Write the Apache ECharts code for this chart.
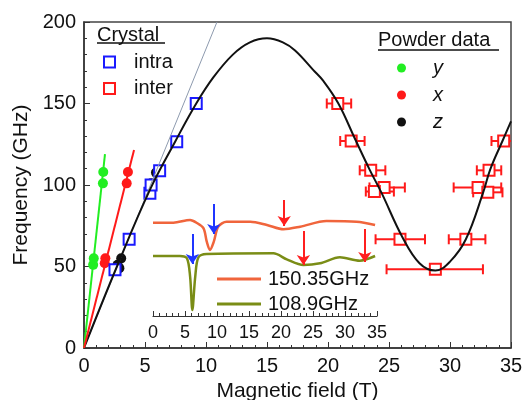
<!DOCTYPE html>
<html>
<head>
<meta charset="utf-8">
<script src="https://cdn.jsdelivr.net/npm/echarts@6/dist/echarts.min.js"></script>
<style>
  html, body { margin: 0; padding: 0; background: #fff; }
  #chart { width: 524px; height: 400px; }
</style>
</head>
<body>
<div id="chart"></div>
<script>
// black model curve [field (T), frequency (GHz)]
var fitCurve = [[0, 0], [2.7, 50], [5.4, 97], [7.5, 127], [9.2, 150], [10.6, 166], [12.2, 180],
  [13.6, 187.5], [15, 190], [16.3, 187.5], [17.3, 182.5], [18.8, 170.5], [19.6, 164], [20.85, 150],
  [22.2, 128.5], [23.4, 109.6], [24.4, 95], [26.1, 68], [27.5, 52], [28.8, 47.5], [30, 53],
  [31.3, 66.7], [32.7, 95], [33.3, 109.6], [34.3, 127], [35, 139]];
// thin grey guide line
var guideLine = [[0, 0], [10.9, 200]];
// straight lines through the powder points
var yLine = [[0, 0], [1.72, 119]];
var xLine = [[0, 0], [4.1, 121.5]];

// powder data
var powderY = [[0.75, 51], [0.8, 55], [1.55, 101], [1.58, 108]];
var powderX = [[1.7, 52], [1.75, 55], [3.5, 101], [3.6, 108]];
var powderZ = [[2.75, 51], [3.05, 55], [2.9, 49], [5.5, 101], [5.9, 107.6]];

// crystal data
var intra = [[2.54, 48], [3.7, 66.7], [5.4, 95], [5.5, 100], [6.2, 108.8], [7.6, 126.6], [9.2, 150]];
// [field, freq, field low, field high]
var inter = [[20.8, 150, 19.9, 21.9], [21.9, 127, 21.0, 23.0], [23.5, 109, 22.6, 24.7],
  [24.6, 98.5, 23.4, 26.3], [23.8, 96, 23.1, 25.4], [25.9, 66.7, 23.9, 27.95],
  [28.8, 48.3, 24.8, 32.7], [31.3, 66.7, 29.9, 32.9], [32.3, 98.5, 30.3, 34.2],
  [33.1, 95.5, 31.9, 34.3], [33.2, 109, 32.2, 34.2], [34.4, 127, 33.4, 35.6]];

// inset traces (arb. units)
var trace150 = [[0, 93.3], [3.2, 93.3], [5.8, 96], [6.8, 93.3], [7.9, 87.7], [8.4, 74.3], [8.9, 66],
  [9.5, 74.3], [10.2, 89.3], [11.5, 94.3], [15.2, 94.3], [17.8, 91], [20.4, 86.7], [23, 89.3],
  [27.1, 95], [31.8, 94.3], [34.7, 91]];
var trace109 = [[0, 60], [4.2, 60], [5.3, 57.7], [5.8, 39.3], [6.15, 6], [6.6, 39.3], [7.1, 58.7],
  [8.4, 62], [18.8, 62.7], [20.9, 56.7], [23.5, 51], [26.1, 52.7], [29.2, 58.7], [32.3, 55.3],
  [34.7, 60]];
// arrows [field, from, to]
var blueArrows = [[9.5, 112, 82], [6.15, 82, 52]];
var redArrows = [[20.5, 116, 90], [23.5, 85, 51], [33.1, 87, 54]];

var FONT = '"Liberation Sans", Arial, sans-serif';
var INK = '#111';

function arrowLines(list, color) {
  return list.map(function (a) {
    return [{ coord: [a[0], a[1]], lineStyle: { color: color }, itemStyle: { color: color } },
      { coord: [a[0], a[2]], itemStyle: { color: color } }];
  });
}

var myChart = echarts.init(document.getElementById('chart'));
myChart.setOption({
  animation: false,
  textStyle: { fontFamily: FONT },
  grid: [
    { left: 84, top: 22, width: 427, height: 326, show: true, borderColor: '#444', borderWidth: 1.5,
      outerBoundsMode: 'none', containLabel: false },
    { left: 153, top: 180, width: 224, height: 136, outerBoundsMode: 'none', containLabel: false }
  ],
  xAxis: [{
    type: 'value', min: 0, max: 35, interval: 5,
    name: 'Magnetic field (T)', nameLocation: 'middle', nameGap: 31,
    nameTextStyle: { fontSize: 21, color: INK, fontFamily: FONT },
    axisLine: { lineStyle: { color: '#333', width: 1.5 } },
    axisTick: { inside: true, length: 6, lineStyle: { color: '#333' } },
    minorTick: { show: true, splitNumber: 5, length: 3, lineStyle: { color: '#333' } },
    axisLabel: { fontSize: 20, color: INK, margin: 8 },
    splitLine: { show: false }
  }, {
    type: 'value', gridIndex: 1, min: 0, max: 35, interval: 5,
    axisLine: { lineStyle: { color: '#333', width: 1.2 } },
    axisTick: { inside: true, length: 5, lineStyle: { color: '#333' } },
    minorTick: { show: true, splitNumber: 5, length: 3, lineStyle: { color: '#333' } },
    axisLabel: { fontSize: 18, color: INK, margin: 8, hideOverlap: false },
    splitLine: { show: false }
  }],
  yAxis: [{
    type: 'value', min: 0, max: 200, interval: 50,
    name: 'Frequency (GHz)', nameLocation: 'middle', nameGap: 51,
    nameTextStyle: { fontSize: 21, color: INK, fontFamily: FONT },
    axisLine: { show: true, lineStyle: { color: '#333', width: 1.5 } },
    axisTick: { inside: true, length: 6, lineStyle: { color: '#333' } },
    minorTick: { show: true, splitNumber: 5, length: 3, lineStyle: { color: '#333' } },
    axisLabel: { fontSize: 20, color: INK, margin: 8 },
    splitLine: { show: false }
  }, {
    type: 'value', gridIndex: 1, min: 0, max: 136, show: false
  }],
  legend: [{
    data: ['intra', 'inter'], orient: 'vertical', left: 103, top: 52, padding: 0,
    itemWidth: 11, itemHeight: 11, itemGap: 6.5, selectedMode: false,
    textStyle: { fontSize: 20, color: INK, fontFamily: FONT, padding: [0, 0, 0, 14] }
  }, {
    data: ['y', 'x', 'z'], orient: 'vertical', left: 397, top: 58, padding: 0,
    itemWidth: 9, itemHeight: 9, itemGap: 7, selectedMode: false,
    textStyle: { fontSize: 20, color: INK, fontStyle: 'italic', fontFamily: FONT, padding: [0, 0, 0, 22] }
  }, {
    data: ['150.35GHz', '108.9GHz'], orient: 'vertical', left: 217, top: 269, padding: 0,
    icon: 'rect', itemWidth: 44, itemHeight: 3, itemGap: 5, selectedMode: false,
    textStyle: { fontSize: 20, color: INK, fontFamily: FONT, padding: [0, 0, 0, 2] }
  }],
  graphic: [
    { type: 'text', left: 97, top: 25, style: { text: 'Crystal', fontSize: 20, fontFamily: FONT, fill: INK } },
    { type: 'line', shape: { x1: 97, y1: 43, x2: 165, y2: 43 }, style: { stroke: INK, lineWidth: 1.5 } },
    { type: 'text', left: 378, top: 30, style: { text: 'Powder data', fontSize: 20, fontFamily: FONT, fill: INK } },
    { type: 'line', shape: { x1: 378, y1: 50, x2: 499, y2: 50 }, style: { stroke: INK, lineWidth: 1.5 } }
  ],
  series: [
    { name: 'guide', type: 'line', data: guideLine, symbol: 'none',
      lineStyle: { color: '#8d9aae', width: 1 } },
    { name: 'fit', type: 'line', data: fitCurve, smooth: 0.4, symbol: 'none',
      lineStyle: { color: '#111', width: 2 } },
    { name: 'yLine', type: 'line', data: yLine, symbol: 'none', lineStyle: { color: '#22ee22', width: 2 } },
    { name: 'xLine', type: 'line', data: xLine, symbol: 'none', lineStyle: { color: '#ff1a1a', width: 2 } },
    { name: 'y', type: 'scatter', data: powderY, symbol: 'circle', symbolSize: 10, itemStyle: { color: '#22ee22', opacity: 1 } },
    { name: 'x', type: 'scatter', data: powderX, symbol: 'circle', symbolSize: 10, itemStyle: { color: '#ff1a1a', opacity: 1 } },
    { name: 'z', type: 'scatter', data: powderZ, symbol: 'circle', symbolSize: 10, itemStyle: { color: '#111', opacity: 1 } },
    { name: 'intra', type: 'scatter', data: intra, symbol: 'emptyRect', symbolSize: 11,
      itemStyle: { color: '#1a1aff', borderWidth: 2, opacity: 1 } },
    { name: 'interErr', type: 'custom', clip: true, data: inter,
      encode: { x: 0, y: 1 },
      renderItem: function (params, api) {
        var f = api.value(1);
        var lo = api.coord([api.value(2), f]);
        var hi = api.coord([api.value(3), f]);
        var st = { stroke: '#ff1a1a', lineWidth: 2, fill: 'none' };
        return { type: 'group', children: [
          { type: 'line', shape: { x1: lo[0], y1: lo[1], x2: hi[0], y2: hi[1] }, style: st },
          { type: 'line', shape: { x1: lo[0], y1: lo[1] - 5, x2: lo[0], y2: lo[1] + 5 }, style: st },
          { type: 'line', shape: { x1: hi[0], y1: hi[1] - 5, x2: hi[0], y2: hi[1] + 5 }, style: st }
        ] };
      } },
    { name: 'inter', type: 'scatter', data: inter.map(function (d) { return [d[0], d[1]]; }),
      symbol: 'emptyRect', symbolSize: 11, itemStyle: { color: '#ff1a1a', borderWidth: 2, opacity: 1 } },
    { name: '150.35GHz', type: 'line', xAxisIndex: 1, yAxisIndex: 1, data: trace150, smooth: 0.3,
      symbol: 'none', lineStyle: { color: '#f0653c', width: 2.5 }, itemStyle: { color: '#f0653c' } },
    { name: '108.9GHz', type: 'line', xAxisIndex: 1, yAxisIndex: 1, data: trace109, smooth: 0.3,
      symbol: 'none', lineStyle: { color: '#7a8d16', width: 2.5 }, itemStyle: { color: '#7a8d16' },
      markLine: {
        silent: true, symbol: ['none', 'arrow'], symbolSize: 10,
        label: { show: false },
        lineStyle: { type: 'solid', width: 2 },
        data: arrowLines(blueArrows, '#1f35ff').concat(arrowLines(redArrows, '#ff1f1f'))
      } }
  ]
});
</script>
</body>
</html>
